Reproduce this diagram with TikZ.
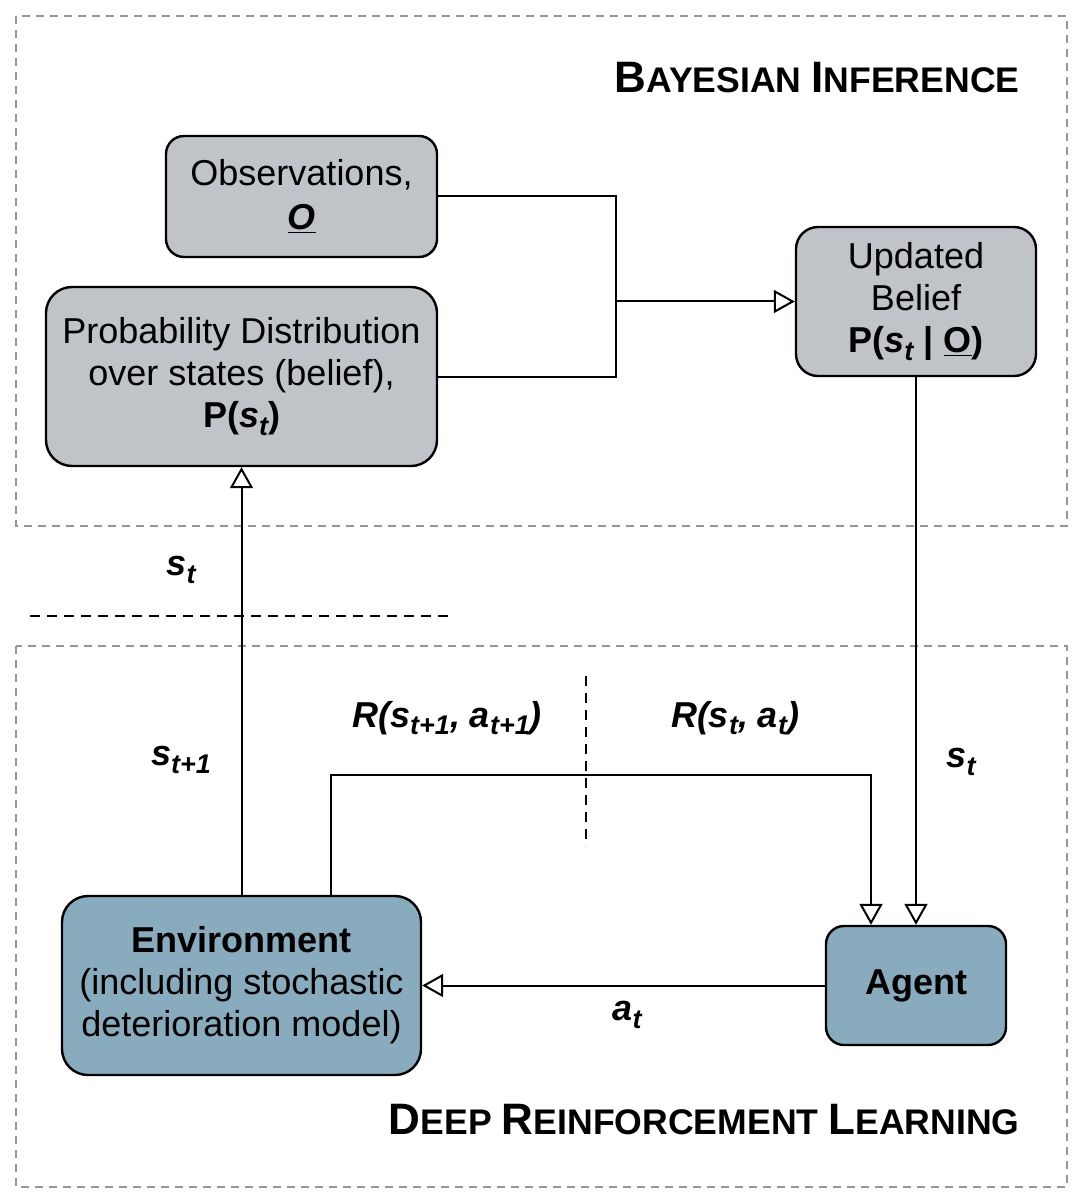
\documentclass[tikz,border=0pt]{standalone}
\usepackage{fontspec}
\setmainfont{Liberation Sans}
\usetikzlibrary{arrows.meta}
\definecolor{boxgrey}{RGB}{192,195,200}
\definecolor{boxblue}{RGB}{136,172,189}
\definecolor{framegrey}{RGB}{150,150,150}
\newcommand\HB[1]{{\fontsize{22}{26}\selectfont\bfseries #1}}
\newcommand\HS[1]{{\fontsize{17.8}{21}\selectfont\bfseries #1}}
\newcommand\sbi[1]{\raisebox{-3.8pt}{\fontsize{13.5}{14}\selectfont\bfseries\itshape #1}}
\begin{document}
\begin{tikzpicture}[x=0.5pt,y=-0.5pt,
  every node/.style={font=\fontsize{18}{21}\selectfont, inner sep=0pt},
  box/.style={draw=black, line width=1.2pt, align=center, rounded corners=#1},
  greybox/.style={box=#1, fill=boxgrey},
  bluebox/.style={box=#1, fill=boxblue},
  conn/.style={draw=black, line width=1pt},
  arr/.style={conn, -{Triangle[open, length=10.5pt, width=11.5pt]}},
  frame/.style={draw=framegrey, line width=1pt, dash pattern=on 4pt off 3pt},
  lab/.style={font=\fontsize{18}{21}\selectfont\bfseries\itshape},
  head/.style={anchor=base east}
]
\useasboundingbox (0,0) rectangle (1083,1203);
% frames
\draw[frame] (16,16) rectangle (1067,526);
\draw[frame] (16,646) rectangle (1067,1187);
% headings
\node[head] (hb) at (1020,93) {\HB{B}\HS{AYESIAN} \HB{I}\HS{NFERENCE}};
\node[head] (hd) at (1020,1134) {\HB{D}\HS{EEP} \HB{R}\HS{EINFORCEMENT} \HB{L}\HS{EARNING}};
% boxes
\node[greybox=9pt, minimum width=135.5pt, minimum height=60.5pt] (obs) at (301.5,196.5)
  {Observations,\\[1pt] \textbf{\textit{\underline{O}}}};
\node[greybox=13pt, minimum width=195.5pt, minimum height=89.5pt] (prob) at (241.5,376.5)
  {Probability Distribution\\ over states (belief),\\ \textbf{P(\textit{s}\sbi{t})}};
\node[greybox=11pt, minimum width=120pt, minimum height=74.5pt] (upd) at (916,301.5)
  {Updated\\ Belief\\ \textbf{P(\textit{s}\sbi{t} | \underline{O})}};
\node[bluebox=13pt, minimum width=179.5pt, minimum height=89.5pt] (env) at (241.5,985.5)
  {\textbf{Environment}\\ (including stochastic\\ deterioration model)};
\node[bluebox=9pt, minimum width=90pt, minimum height=59.5pt] (agent) at (916,985.5)
  {\textbf{Agent}};
% connectors
\coordinate (j) at (616,301.5);
\draw[conn] (obs.east) -| (j);
\draw[conn] (prob.east) -| (j);
\draw[arr] (j) -- (upd.west);
\draw[arr] (upd.south) -- (agent.north);
\draw[arr] (env.north) -- (prob.south);
\coordinate (r1) at (331,775);
\coordinate (r2) at (871,775);
\draw[arr] (r1 |- env.north) -- (r1) -- (r2) -- (r2 |- agent.north);
\draw[arr] (agent.west) -- (env.east);
% dashed separators
\draw[line width=1pt, dash pattern=on 5pt off 3.5pt] (30,616) -- (452,616);
\draw[line width=1pt, dash pattern=on 5pt off 3.5pt] (586,676) -- (586,846);
% labels
\node[lab] (l1) at (181,570) {s\sbi{t}};
\node[lab] (l2) at (181,760) {s\sbi{t+1}};
\node[lab] (l3) at (447,718) {R(s\sbi{t+1}, a\sbi{t+1})};
\node[lab] (l4) at (735,718) {R(s\sbi{t}, a\sbi{t})};
\node[lab] (l5) at (961,762) {s\sbi{t}};
\node[lab] (l6) at (627,1015) {a\sbi{t}};
\end{tikzpicture}
\end{document}
